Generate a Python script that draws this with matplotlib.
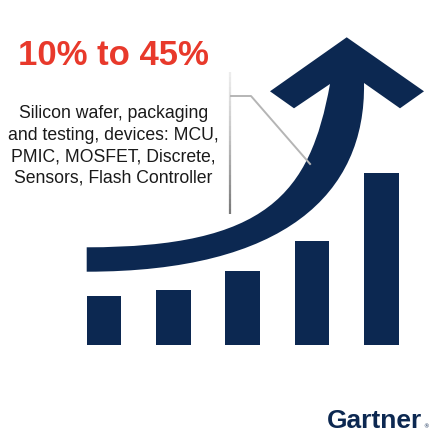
import matplotlib
matplotlib.use("Agg")
import matplotlib.pyplot as plt
import numpy as np
from matplotlib.path import Path
from matplotlib.patches import PathPatch
from matplotlib.collections import LineCollection

# ---- data ----
categories = ["1", "2", "3", "4", "5"]
bar_values = [49, 55, 74, 104, 172]
headline = "10% to 45%"
body_lines = ["Silicon wafer, packaging",
              "and testing, devices: MCU,",
              "PMIC, MOSFET, Discrete,",
              "Sensors, Flash Controller"]
brand = "Gartner"

NAVY = "#0c2851"
RED = "#e8392b"

W, H = 446, 439
fig = plt.figure(figsize=(W / 100, H / 100), dpi=100)
fig.patch.set_facecolor("white")

# bars axes
bx = fig.add_axes([69.3 / W, (H - 346.3) / H, 346.6 / W, 200 / H])
bx.bar(np.arange(len(categories)), bar_values, width=0.5, color=NAVY, zorder=2)
bx.set_xlim(-0.5, len(categories) - 0.5)
bx.set_ylim(0, 200)
bx.axis("off")

# overlay axes in pixel units
ax = fig.add_axes([0, 0, 1, 1])
ax.set_xlim(0, W)
ax.set_ylim(H, 0)
ax.axis("off")
ax.patch.set_alpha(0)

# curved arrow (decoration)
verts = [
    (86.7, 248.3),
    (266.7, 248.3), (310, 195), (330, 85),
    (294, 109.3), (270, 92.3), (346.7, 38.3), (424, 92.3), (400, 109.3), (364, 84),
    (366, 195), (284, 272.7), (86.7, 272.7),
    (86.7, 248.3),
]
codes = ([Path.MOVETO] + [Path.CURVE4] * 3 + [Path.LINETO] * 6 +
         [Path.CURVE4] * 3 + [Path.CLOSEPOLY])
ax.add_patch(PathPatch(Path(verts, codes), facecolor=NAVY, edgecolor="none", zorder=3))

# leader line with gradient vertical part
ys = np.linspace(73, 215, 30)
segs = [[(230, ys[i]), (230, ys[i + 1])] for i in range(len(ys) - 1)]
cols = [plt.cm.Greys(0.15 + 0.45 * i / (len(segs) - 1)) for i in range(len(segs))]
ax.add_collection(LineCollection(segs, colors=cols, linewidths=1.6, zorder=4))
ax.plot([230, 251, 310.7], [97, 97, 165.7], color="#b5b5b5", lw=1.4, zorder=5,
        solid_capstyle="butt")

# texts
ax.text(113.3, 65, headline, color=RED, fontsize=25, fontweight="bold",
        family="Liberation Sans", ha="center", va="baseline", zorder=6)
ax.text(113.3, 182.7, "\n".join(body_lines), color="#1a1a1a", fontsize=12.7,
        family="Liberation Sans", ha="center", va="baseline", linespacing=1.35,
        zorder=6)
ax.text(327, 428, brand, color=NAVY, fontsize=19, fontweight="bold",
        family="Liberation Sans", ha="left", va="baseline", zorder=6)
ax.text(423, 428.5, "\u00ae", color=NAVY, fontsize=4, family="DejaVu Sans",
        ha="left", va="baseline", zorder=6)

fig.savefig("out.png", dpi=100, facecolor="white")
